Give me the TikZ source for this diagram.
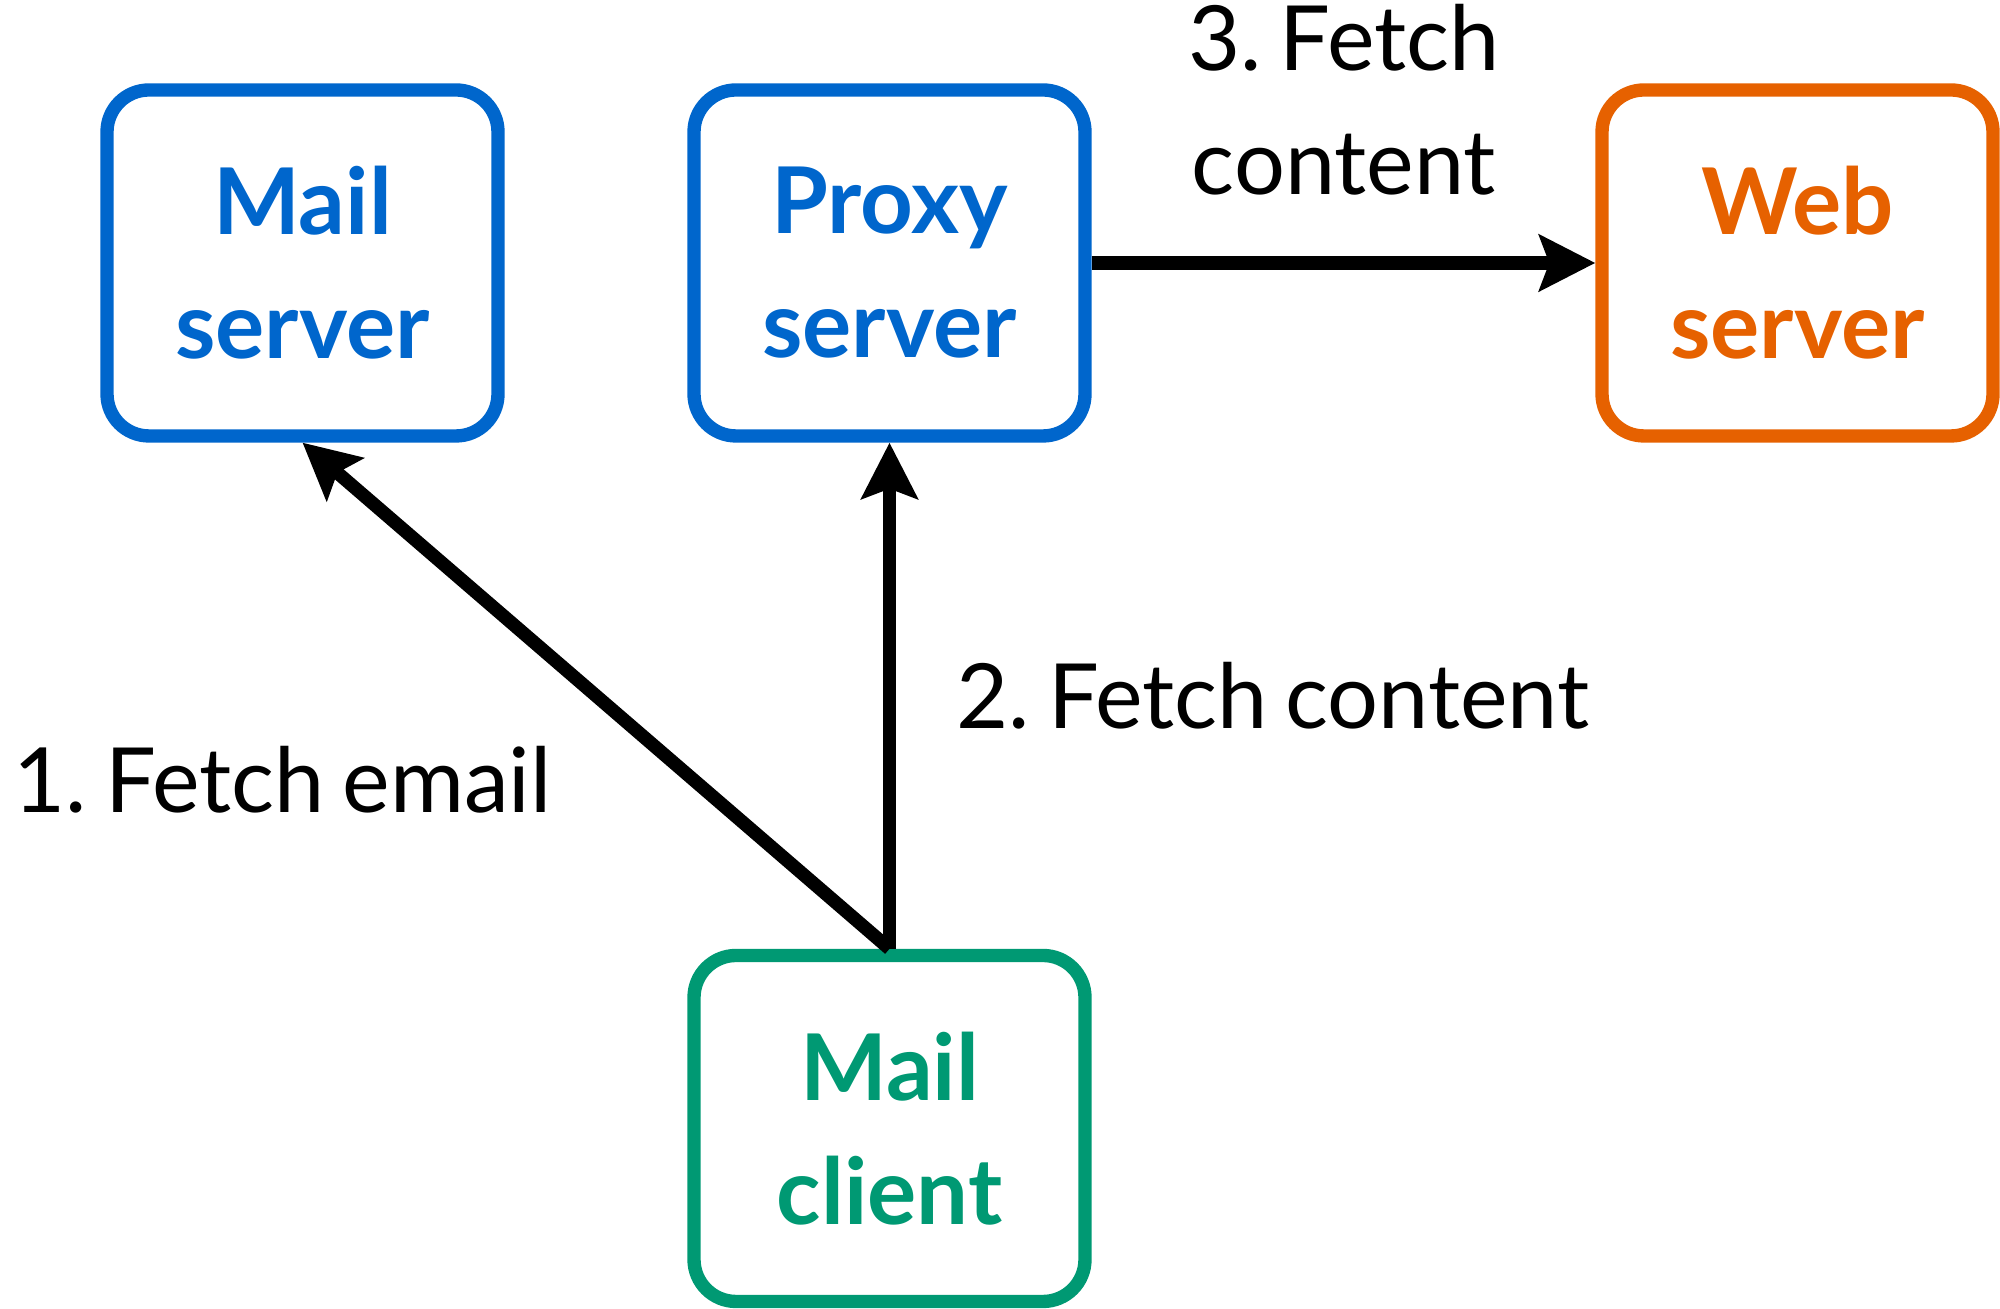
\documentclass[tikz,border=0pt]{standalone}
\usepackage{fontspec}
\setmainfont{Lato}
\usetikzlibrary{arrows.meta}
\definecolor{mailblue}{RGB}{0,102,204}
\definecolor{weborange}{RGB}{230,97,0}
\definecolor{clientgreen}{RGB}{0,153,115}
\frenchspacing

\begin{document}
\begin{tikzpicture}[line width = 3.8pt,
                    machine/.style = {rectangle, draw, rounded corners = 0.42cm, minimum width = 3.91cm, minimum height = 3.46cm, align = center, font = \fontsize{26.2}{35.3}\selectfont\bfseries},
                    note/.style = {inner sep = 0pt, font = {\fontsize{25.6}{35.3}\selectfont\spaceskip=0.2em\relax}},
                    flow/.style = {-{Stealth[length = 0.56cm, width = 0.56cm, inset = 0.1cm]}}]
  \useasboundingbox (0, 0) rectangle (20, 13.09);

  \node [machine, color = mailblue] (MS) at (3.025, 10.46) {Mail\\server};
  \node [machine, color = mailblue] (PS) at (8.895, 10.46) {Proxy\\server};
  \node [machine, color = weborange] (WS) at (17.975, 10.46) {Web\\server};
  \node [machine, color = clientgreen] (MC) at (8.895, 1.805) {Mail\\client};

  \draw [flow] (MC.north) -- (MS.south);
  \draw [flow] (MC.north) -- (PS.south);
  \draw [flow] (PS.east) -- (WS.west);

  \node [note, anchor = base west] (F1) at (0.07, 4.96) {1. Fetch email};
  \node [note, anchor = base west] (F2) at (9.50, 5.80) {2. Fetch content};
  \node [note, align = center] (F3) at (13.44, 12.09) {3. Fetch\\content};
\end{tikzpicture}
\end{document}
